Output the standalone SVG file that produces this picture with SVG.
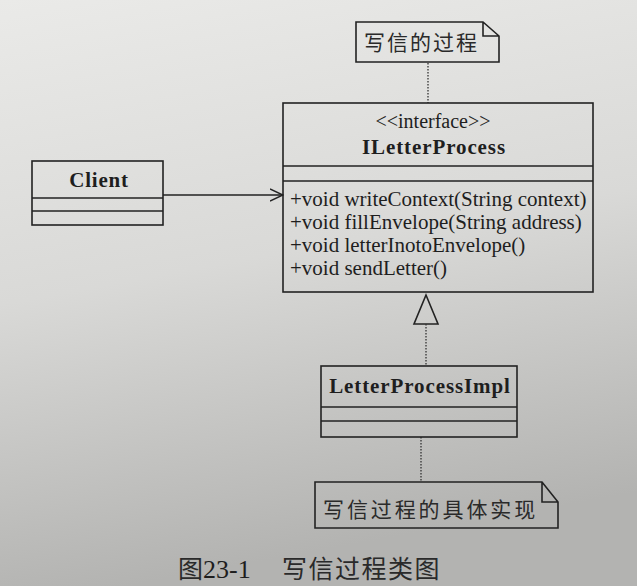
<svg xmlns="http://www.w3.org/2000/svg" width="637" height="586" viewBox="0 0 637 586">
<defs>
<linearGradient id="bg" x1="0" y1="0" x2="0.2" y2="1">
<stop offset="0" stop-color="#eaeae8"/>
<stop offset="0.5" stop-color="#d9d9d7"/>
<stop offset="1" stop-color="#b3b3b1"/>
</linearGradient>
<marker id="open" viewBox="0 0 14 14" refX="13" refY="7" markerWidth="14" markerHeight="14" markerUnits="userSpaceOnUse" orient="auto">
<path d="M0,1 L13,7 L0,13" fill="none" stroke="#222" stroke-width="1.4"/>
</marker>
</defs>
<style>
.box{fill:none;stroke:#222;stroke-width:1.6}
.ln{stroke:#222;stroke-width:1.6;fill:none}
.dot{stroke:#333;stroke-width:1.3;stroke-dasharray:1.5 1.5;fill:none}
.serif{font-family:"Liberation Serif","Times New Roman",serif;fill:#1e1e1e}
.bold{font-weight:bold}
.cjk{font-family:"Noto Sans CJK SC","Noto Sans",sans-serif;fill:#2a2a2a}
</style>
<rect x="0" y="0" width="637" height="586" fill="url(#bg)"/>

<g id="connectors">
<line class="dot" x1="428" y1="63" x2="428" y2="103"/>
<line class="ln" x1="163" y1="195" x2="283" y2="195" marker-end="url(#open)"/>
<polygon points="426,295 414,324 438,324" fill="none" stroke="#222" stroke-width="1.6"/>
<line class="dot" x1="426" y1="324" x2="426" y2="366"/>
<line class="dot" x1="421" y1="437" x2="421" y2="482"/>
</g>

<g id="note1">
<path class="box" d="M356,22 L483,22 L499,36 L499,62 L356,62 Z M483,22 L483,36 L499,36"/>
<text class="cjk" x="364" y="50" font-size="21" letter-spacing="2">写信的过程</text>
</g>

<g id="ILetterProcess">
<rect class="box" x="283" y="103" width="310" height="189"/>
<line class="ln" x1="283" y1="166" x2="593" y2="166"/>
<line class="ln" x1="283" y1="181" x2="593" y2="181"/>
<text class="serif" x="433" y="128" font-size="20" text-anchor="middle">&lt;&lt;interface&gt;&gt;</text>
<text class="serif bold" x="434" y="154" font-size="21" text-anchor="middle" letter-spacing="0.9">ILetterProcess</text>
<text class="serif" x="290" y="206" font-size="21">+void writeContext(String context)</text>
<text class="serif" x="290" y="229" font-size="21">+void fillEnvelope(String address)</text>
<text class="serif" x="290" y="252" font-size="21">+void letterInotoEnvelope()</text>
<text class="serif" x="290" y="275" font-size="21">+void sendLetter()</text>
</g>

<g id="Client">
<rect class="box" x="32" y="161" width="131" height="64"/>
<line class="ln" x1="32" y1="198" x2="163" y2="198"/>
<line class="ln" x1="32" y1="211" x2="163" y2="211"/>
<text class="serif bold" x="99" y="187" font-size="21" text-anchor="middle" letter-spacing="0.8">Client</text>
</g>

<g id="LetterProcessImpl">
<rect class="box" x="321" y="366" width="196" height="71"/>
<line class="ln" x1="321" y1="407" x2="517" y2="407"/>
<line class="ln" x1="321" y1="421" x2="517" y2="421"/>
<text class="serif bold" x="420" y="393" font-size="21" text-anchor="middle" letter-spacing="0.9">LetterProcessImpl</text>
</g>

<g id="note2">
<path class="box" d="M315,482 L542,482 L558,502 L558,528 L315,528 Z M542,482 L542,502 L558,502"/>
<text class="cjk" x="323" y="517" font-size="21" letter-spacing="2.9">写信过程的具体实现</text>
</g>

<g id="caption">
<text class="cjk" x="178" y="578" font-size="25">图<tspan class="serif" font-size="26">23-1</tspan><tspan x="282" letter-spacing="1.5">写信过程类图</tspan></text>
</g>
</svg>
